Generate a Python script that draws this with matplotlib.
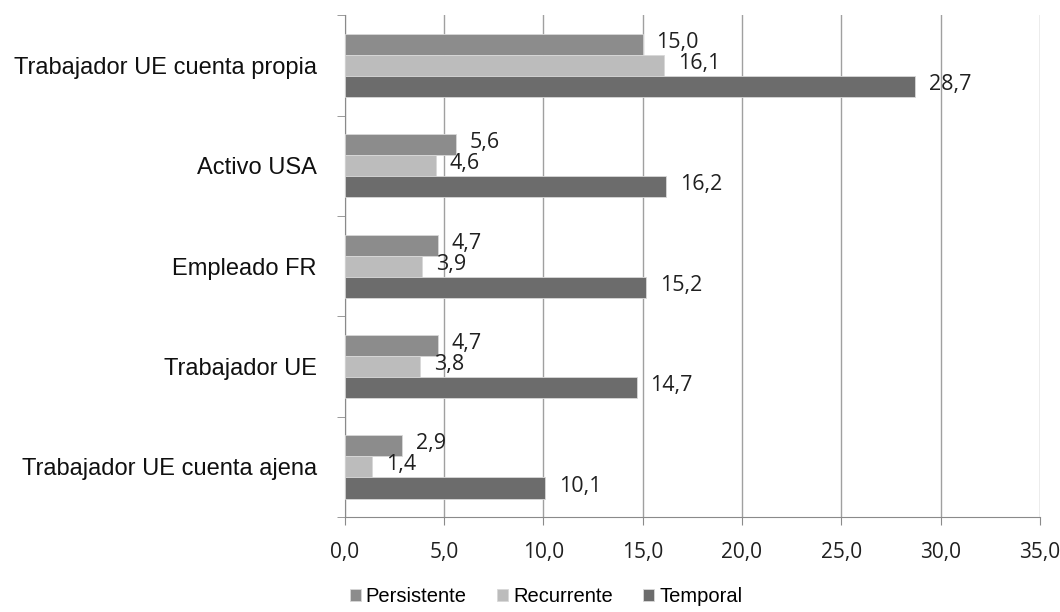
import numpy as np
import matplotlib.pyplot as plt
from matplotlib.ticker import FixedLocator

categorias = ["Trabajador UE cuenta ajena", "Trabajador UE", "Empleado FR",
              "Activo USA", "Trabajador UE cuenta propia"]
persistente = [2.9, 4.7, 4.7, 5.6, 15.0]
recurrente = [1.4, 3.8, 3.9, 4.6, 16.1]
temporal = [10.1, 14.7, 15.2, 16.2, 28.7]
xticks = [0, 5, 10, 15, 20, 25, 30, 35]

series = [("Persistente", persistente, "#8c8c8c"),
          ("Recurrente", recurrente, "#bcbcbc"),
          ("Temporal", temporal, "#6c6c6c")]

fig = plt.figure(figsize=(10.6, 6.12), dpi=100)
ax = fig.add_axes([0.325, 0.155, 0.656, 0.82])

y = np.arange(len(categorias))
h = 0.21
offsets = [h, 0, -h]

for (name, vals, col), off in zip(series, offsets):
    bars = ax.barh(y + off, vals, height=h, color=col, label=name,
                   edgecolor="#d8d8d8", linewidth=0.6, zorder=3)
    for b, v in zip(bars, vals):
        ax.text(v + 0.7, b.get_y() + b.get_height() / 2 + 0.02,
                f"{v:.1f}".replace(".", ","), va="center", ha="left",
                fontsize=15.5, color="#202020", family="Open Sans", zorder=4)

ax.set_xlim(0, 35)
ax.set_ylim(-0.5, len(categorias) - 0.5)
ax.set_xticks(xticks)
ax.set_xticklabels([f"{t:.1f}".replace(".", ",") for t in xticks],
                   fontsize=15, family="Open Sans", color="#202020")
ax.set_yticks(y)
ax.set_yticklabels(categorias, fontsize=17, family="Liberation Sans", color="#101010")
ax.yaxis.set_minor_locator(FixedLocator(np.arange(-0.5, len(categorias), 1.0)))
ax.tick_params(axis="y", which="major", length=0, pad=20)
ax.tick_params(axis="y", which="minor", length=6, color="#8a8a8a")
ax.tick_params(axis="x", length=6, color="#8a8a8a", pad=12)

ax.grid(axis="x", color="#a0a0a0", linewidth=1, zorder=0)
for s in ["top", "right"]:
    ax.spines[s].set_visible(False)
ax.spines["left"].set_color("#8a8a8a")
ax.spines["bottom"].set_color("#8a8a8a")

leg = fig.legend(loc="lower center", bbox_to_anchor=(0.515, -0.02), ncol=3,
                 frameon=False, handlelength=0.55, handleheight=0.55,
                 handletextpad=0.25, columnspacing=1.5,
                 prop={"family": "Liberation Sans", "size": 14.5})

fig.savefig("out.png", dpi=100)
